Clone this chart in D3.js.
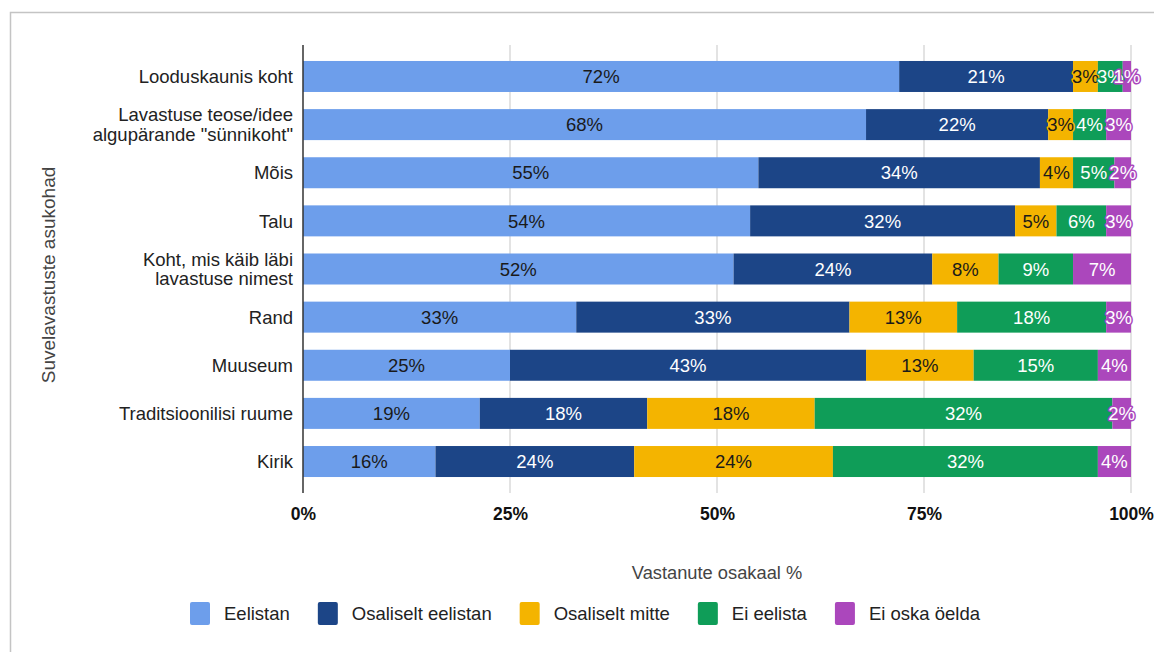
<!DOCTYPE html>
<html>
<head>
<meta charset="utf-8">
<script src="https://cdn.jsdelivr.net/npm/d3@7"></script>
<style>
  html, body { margin: 0; padding: 0; background: #fff; }
  svg { display: block; font-family: "Liberation Sans", Arial, sans-serif; }
</style>
</head>
<body>
<svg id="chart" width="1154" height="652"></svg>
<script>
// Survey answers: preferred summer-theatre venues
const categories = [
  ["Looduskaunis koht"],
  ["Lavastuse teose/idee", "algupärande \"sünnikoht\""],
  ["Mõis"],
  ["Talu"],
  ["Koht, mis käib läbi", "lavastuse nimest"],
  ["Rand"],
  ["Muuseum"],
  ["Traditsioonilisi ruume"],
  ["Kirik"]
];
const seriesNames = ["Eelistan", "Osaliselt eelistan", "Osaliselt mitte", "Ei eelista", "Ei oska öelda"];
const eelistan          = [72, 68, 55, 54, 52, 33, 25, 19, 16];
const osaliseltEelistan = [21, 22, 34, 32, 24, 33, 43, 18, 24];
const osaliseltMitte    = [3, 3, 4, 5, 8, 13, 13, 18, 24];
const eiEelista         = [3, 4, 5, 6, 9, 18, 15, 32, 32];
const eiOskaOelda       = [1, 3, 2, 3, 7, 3, 4, 2, 4];
const xTickLabels = ["0%", "25%", "50%", "75%", "100%"];
const xTickValues = [0, 0.25, 0.5, 0.75, 1];

const colors = ["#6d9eeb", "#1c4587", "#f4b400", "#0f9d58", "#ab47bc"];
const labelColors = ["#1a1a1a", "#fff", "#1a1a1a", "#fff", "#fff"];

const seriesValues = [eelistan, osaliseltEelistan, osaliseltMitte, eiEelista, eiOskaOelda];
const rows = categories.map((c, i) => {
  const r = { key: c.join(" "), lines: c };
  seriesNames.forEach((s, j) => r[s] = seriesValues[j][i]);
  return r;
});

const svg = d3.select("#chart");

// Outer frame
svg.append("rect")
  .attr("x", 10.5).attr("y", 12.5)
  .attr("width", 1160).attr("height", 660)
  .attr("fill", "none").attr("stroke", "#c4c4c4").attr("stroke-width", 1.5);

const plot = { left: 303, right: 1131, top: 45, bottom: 493 };

const x = d3.scaleLinear().domain([0, 1]).range([plot.left, plot.right]);
const y = d3.scaleBand()
  .domain(rows.map(d => d.key))
  .range([plot.top, plot.bottom])
  .paddingInner(0.356)
  .paddingOuter(0.332);

// Rows are normalised to 100% of their total
const stack = d3.stack().keys(seriesNames).offset(d3.stackOffsetExpand);
const stacked = stack(rows);

// Vertical gridlines
svg.append("g")
  .selectAll("line")
  .data(xTickValues.slice(1))
  .join("line")
  .attr("x1", d => x(d)).attr("x2", d => x(d))
  .attr("y1", plot.top).attr("y2", plot.bottom)
  .attr("stroke", "#d0d0d0").attr("stroke-width", 1.2);

// Bars
const layers = svg.append("g")
  .selectAll("g")
  .data(stacked)
  .join("g")
  .attr("fill", (d, i) => colors[i]);

layers.selectAll("rect")
  .data(d => d)
  .join("rect")
  .attr("x", d => x(d[0]))
  .attr("width", d => x(d[1]) - x(d[0]))
  .attr("y", d => y(d.data.key))
  .attr("height", y.bandwidth());

// Segment value labels
const labelLayers = svg.append("g")
  .selectAll("g")
  .data(stacked)
  .join("g");

labelLayers.each(function(layer, i) {
  d3.select(this).selectAll("text")
    .data(layer)
    .join("text")
    .attr("x", d => (x(d[0]) + x(d[1])) / 2)
    .attr("y", d => y(d.data.key) + y.bandwidth() / 2)
    .attr("dy", "0.36em")
    .attr("text-anchor", "middle")
    .attr("font-size", 18.5)
    .attr("fill", labelColors[i])
    .attr("stroke", colors[i])
    .attr("stroke-width", 3)
    .attr("stroke-linejoin", "round")
    .attr("paint-order", "stroke")
    .text(d => d.data[layer.key] + "%");
});

// Zero axis line
svg.append("line")
  .attr("x1", plot.left).attr("x2", plot.left)
  .attr("y1", plot.top).attr("y2", plot.bottom)
  .attr("stroke", "#333").attr("stroke-width", 1.5);

// X tick labels
const xAxis = d3.axisBottom(x)
  .tickValues(xTickValues)
  .tickFormat((d, i) => xTickLabels[i])
  .tickSize(0)
  .tickPadding(0);
const xg = svg.append("g")
  .attr("transform", `translate(0, ${plot.bottom + 15})`)
  .call(xAxis);
xg.select(".domain").remove();
xg.selectAll("text")
  .attr("font-family", "Liberation Sans, Arial, sans-serif")
  .attr("font-size", 17.5)
  .attr("font-weight", "bold")
  .attr("fill", "#111");

// Category labels
const catLabels = svg.append("g")
  .selectAll("text")
  .data(rows)
  .join("text")
  .attr("x", 293)
  .attr("y", d => y(d.key) + y.bandwidth() / 2)
  .attr("text-anchor", "end")
  .attr("font-size", 18.5)
  .attr("fill", "#222");
catLabels.each(function(d) {
  const t = d3.select(this);
  const n = d.lines.length;
  d.lines.forEach((line, k) => {
    t.append("tspan")
      .attr("x", 293)
      .attr("dy", k === 0 ? `${0.36 - (n - 1) * 0.53}em` : "1.06em")
      .text(line);
  });
});

// Axis titles
svg.append("text")
  .attr("x", (plot.left + plot.right) / 2)
  .attr("y", 572)
  .attr("dy", "0.36em")
  .attr("text-anchor", "middle")
  .attr("font-size", 18.3)
  .attr("fill", "#444")
  .text("Vastanute osakaal %");

svg.append("text")
  .attr("transform", "translate(48, 275) rotate(-90)")
  .attr("dy", "0.36em")
  .attr("text-anchor", "middle")
  .attr("font-size", 19)
  .attr("fill", "#444")
  .text("Suvelavastuste asukohad");

// Legend
const legend = svg.append("g").attr("transform", "translate(190, 602)");
let lx = 0;
seriesNames.forEach((name, i) => {
  const item = legend.append("g").attr("transform", `translate(${lx}, 0)`);
  item.append("rect")
    .attr("width", 20).attr("height", 23).attr("rx", 2)
    .attr("fill", colors[i]);
  const t = item.append("text")
    .attr("x", 34).attr("y", 11.5).attr("dy", "0.36em")
    .attr("font-size", 18.5).attr("fill", "#222")
    .text(name);
  lx += 34 + t.node().getComputedTextLength() + 28;
});
</script>
</body>
</html>
